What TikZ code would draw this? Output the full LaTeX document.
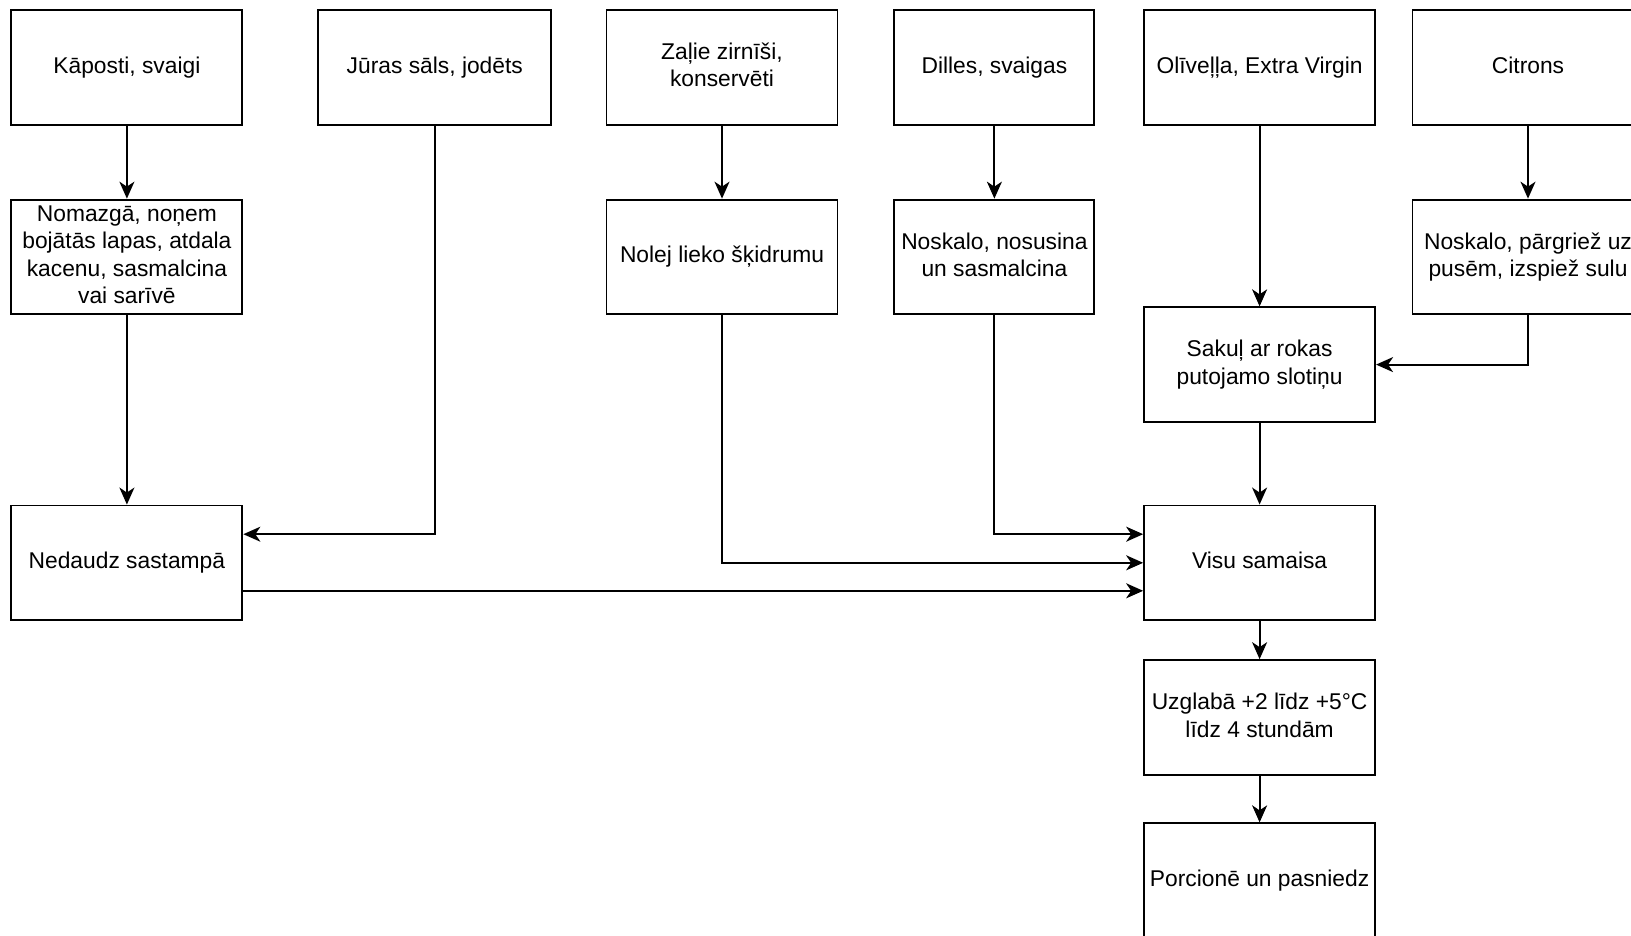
\documentclass[tikz,border=0pt]{standalone}
\usepackage{fontspec}
\setmainfont{Liberation Sans}
\usetikzlibrary{arrows.meta}
\newcommand\boxstrut{\rule[-0.21em]{0pt}{0.94em}}
\newcommand\tallstrut{\rule[-0.21em]{0pt}{\dimexpr0.94em+7pt\relax}}
\begin{document}
\begin{tikzpicture}[x=1pt,y=-1pt,
  stepbox/.style={draw, line width=1.9pt, minimum width=231pt, minimum height=114.6pt,
    inner sep=2pt, align=center, font=\fontsize{22.8pt}{27.5pt}\selectfont,
    execute at begin node=\boxstrut, execute at end node=\boxstrut},
  multiline/.style={execute at begin node=\tallstrut},
  flow/.style={draw, line width=1.9pt, -{Stealth[length=17pt,width=15pt,inset=5pt]}}]
\clip (0,0) rectangle (1631,936);
\fill[white] (0,0) rectangle (1631,936);
% top row: ingredients
\node[stepbox] (kap) at (126.9,67.3) {Kāposti, svaigi};
\node[stepbox, minimum width=233pt] (sal) at (434.8,67.3) {Jūras sāls, jodēts};
\node[stepbox, multiline] (zir) at (722,67.3) {Zaļie zirnīši,\\konservēti};
\node[stepbox, minimum width=200pt] (dil) at (994.4,67.3) {Dilles, svaigas};
\node[stepbox] (oli) at (1259.6,67.3) {Olīveļļa, Extra Virgin};
\node[stepbox] (cit) at (1528,67.3) {Citrons};
% second row: preparation
\node[stepbox, multiline] (maz) at (126.9,256.9) {Nomazgā, noņem\\bojātās lapas, atdala\\kacenu, sasmalcina\\vai sarīvē};
\node[stepbox] (nol) at (722,256.9) {Nolej lieko šķidrumu};
\node[stepbox, multiline, minimum width=200pt] (nsk) at (994.4,256.9) {Noskalo, nosusina\\un sasmalcina};
\node[stepbox, multiline] (npg) at (1528,256.9) {Noskalo, pārgriež uz\\pusēm, izspiež sulu};
\node[stepbox, multiline] (sak) at (1259.6,364.6) {Sakuļ ar rokas\\putojamo slotiņu};
% combining and finishing
\node[stepbox] (ned) at (126.9,562.8) {Nedaudz sastampā};
\node[stepbox] (vis) at (1259.6,562.8) {Visu samaisa};
\node[stepbox, multiline] (uzg) at (1259.6,717.4) {Uzglabā +2 līdz +5°C\\līdz 4 stundām};
\node[stepbox] (por) at (1259.6,880.6) {Porcionē un pasniedz};
% connectors (yshift is in page direction: positive is up)
\draw[flow] (kap) -- (maz);
\draw[flow] (maz) -- (ned);
\draw[flow] (sal.south) |- ([yshift=28.6pt]ned.east);
\draw[flow] (zir) -- (nol);
\draw[flow] (dil) -- (nsk);
\draw[flow] (oli) -- (sak);
\draw[flow] (cit) -- (npg);
\draw[flow] (npg.south) |- (sak.east);
\draw[flow] (nsk.south) |- ([yshift=28.6pt]vis.west);
\draw[flow] (nol.south) |- (vis.west);
\draw[flow] ([yshift=-28pt]ned.east) -- ([yshift=-28pt]vis.west);
\draw[flow] (sak) -- (vis);
\draw[flow] (vis) -- (uzg);
\draw[flow] (uzg) -- (por);
\end{tikzpicture}
\end{document}
